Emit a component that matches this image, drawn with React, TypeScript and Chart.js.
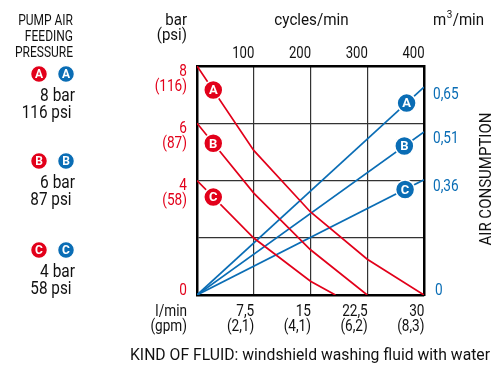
import React, { useEffect, useRef } from 'react';
import { Chart, registerables } from 'chart.js';

Chart.register(...registerables);

const FONT = 'Roboto, "Liberation Sans", sans-serif';
const RED = '#e2001a';
const BLUE = '#0a6db5';
const INK = '#111111';

// axis ticks
const flowTicks = [7.5, 15, 22.5, 30];
const flowTickLabels = ['7,5', '15', '22,5', '30'];
const gpmTickLabels = ['(2,1)', '(4,1)', '(6,2)', '(8,3)'];
const cycleTicks = [100, 200, 300, 400];
const cycleTickLabels = ['100', '200', '300', '400'];
const pressureTicks = [8, 6, 4, 0];
const pressureTickLabels = ['8', '6', '4', '0'];
const psiTickLabels = ['(116)', '(87)', '(58)', ''];
const airTicks = [0.65, 0.51, 0.36, 0];
const airTickLabels = ['0,65', '0,51', '0,36', '0'];

// series
const seriesNames = ['A', 'B', 'C'];
const pressureFlowA = [0, 7.5, 15, 22.5, 30];
const pressureA = [8, 5.05, 2.9, 1.25, 0];
const pressureFlowB = [0, 7.5, 15, 22.5];
const pressureB = [6, 3.56, 1.58, 0];
const pressureFlowC = [0, 7.5, 15, 18.3];
const pressureC = [4, 1.99, 0.48, 0];
const airFlow = [0, 30];
const airA = [0, 0.65];
const airB = [0, 0.51];
const airC = [0, 0.36];

// series badges on the curves
const redBadgeFlow = [2.15, 2.15, 2.15];
const redBadgePressure = [7.16, 5.3, 3.42];
const blueBadgeFlow = [27.7, 27.4, 27.5];
const blueBadgeAir = [0.6, 0.466, 0.33];

// left legend
const legendBar = ['8 bar', '6 bar', '4 bar'];
const legendPsi = ['116 psi', '87 psi', '58 psi'];

const pts = (xs: number[], ys: number[]) => xs.map((x, i) => ({ x, y: ys[i] }));

function txt(
  ctx: CanvasRenderingContext2D,
  s: string,
  x: number,
  y: number,
  size: number,
  color: string,
  align: CanvasTextAlign,
  sx = 1,
  weight = 'normal'
) {
  ctx.save();
  ctx.font = `${weight} ${size}px ${FONT}`;
  ctx.fillStyle = color;
  ctx.textAlign = align;
  ctx.textBaseline = 'alphabetic';
  ctx.translate(x, y);
  ctx.scale(sx, 1);
  ctx.fillText(s, 0, 0);
  ctx.restore();
}

function badge(ctx: CanvasRenderingContext2D, letter: string, x: number, y: number, color: string, r = 9) {
  ctx.save();
  ctx.beginPath();
  ctx.arc(x, y, r, 0, Math.PI * 2);
  ctx.fillStyle = color;
  ctx.fill();
  ctx.lineWidth = 1.5;
  ctx.strokeStyle = '#fff';
  ctx.stroke();
  ctx.font = `bold ${r >= 9 ? 13 : 12}px ${FONT}`;
  ctx.fillStyle = '#fff';
  ctx.textAlign = 'center';
  ctx.textBaseline = 'middle';
  ctx.fillText(letter, x, y + 1);
  ctx.restore();
}

const textPlugin = {
  id: 'texts',
  afterDatasetsDraw(chart: any) {
    const ctx = chart.ctx as CanvasRenderingContext2D;
    chart.data.datasets.forEach((ds: any, i: number) => {
      if (!ds.badge) return;
      const meta = chart.getDatasetMeta(i);
      meta.data.forEach((el: any, j: number) => {
        badge(ctx, seriesNames[j], el.x, el.y, ds.badge, 9.5);
      });
    });
  },
  afterDraw(chart: any) {
    const ctx = chart.ctx as CanvasRenderingContext2D;
    const { x, x2, y, y2 } = chart.scales;
    const left = chart.chartArea.left;
    const right = chart.chartArea.right;

    // left legend
    txt(ctx, 'PUMP AIR', 73, 25, 15, INK, 'right', 0.8);
    txt(ctx, 'FEEDING', 73, 41, 15, INK, 'right', 0.8);
    txt(ctx, 'PRESSURE', 73, 57, 15, INK, 'right', 0.8);
    const legendY = [74, 161, 250];
    seriesNames.forEach((n, i) => {
      badge(ctx, n, 39, legendY[i], RED, 8.5);
      badge(ctx, n, 66, legendY[i], BLUE, 8.5);
      txt(ctx, legendBar[i], 75, legendY[i] + 26.5, 18, INK, 'right', 0.86);
      txt(ctx, legendPsi[i], 71.5, legendY[i] + 43.5, 18, INK, 'right', 0.85);
    });

    // axis titles
    txt(ctx, 'bar', left - 10, 25, 16, INK, 'right', 0.94);
    txt(ctx, '(psi)', left - 10, 40, 16, INK, 'right', 0.94);
    txt(ctx, 'cycles/min', (left + right) / 2 + 1, 25, 16, INK, 'center', 0.95);
    // m3/min
    ctx.save();
    ctx.font = `normal 16px ${FONT}`;
    const mW = ctx.measureText('m').width * 0.94;
    ctx.restore();
    txt(ctx, 'm', right + 9, 25, 16, INK, 'left', 0.94);
    txt(ctx, '3', right + 9 + mW + 0.5, 18, 11, INK, 'left', 0.9);
    txt(ctx, '/min', right + 9 + mW + 6.5, 25, 16, INK, 'left', 0.94);

    // top ticks (cycles/min)
    cycleTicks.forEach((v, i) => {
      txt(ctx, cycleTickLabels[i], x2.getPixelForValue(v) + 0.5, 58, 16, INK, 'right', 0.82);
    });

    // left ticks (bar / psi)
    pressureTicks.forEach((v, i) => {
      const py = y.getPixelForValue(v);
      if (v === 0) {
        txt(ctx, pressureTickLabels[i], left - 10, py, 16, RED, 'right', 0.85);
      } else {
        txt(ctx, pressureTickLabels[i], left - 10, py + 9.5, 16, RED, 'right', 0.85);
        txt(ctx, psiTickLabels[i], left - 10, py + 24.5, 16, RED, 'right', 0.85);
      }
    });

    // right ticks (m3/min)
    airTicks.forEach((v, i) => {
      const py = y2.getPixelForValue(v);
      if (v === 0) {
        txt(ctx, airTickLabels[i], right + 11, py, 16, BLUE, 'left', 0.85);
      } else {
        txt(ctx, airTickLabels[i], right + 9, py + 11.5, 16, BLUE, 'left', 0.85);
      }
    });

    // bottom ticks (l/min / gpm)
    txt(ctx, 'l/min', left - 10, 316, 16, INK, 'right', 0.85);
    txt(ctx, '(gpm)', left - 10, 330.5, 16, INK, 'right', 0.85);
    flowTicks.forEach((v, i) => {
      const px = x.getPixelForValue(v) + 0.5;
      txt(ctx, flowTickLabels[i], px, 316, 16, INK, 'right', 0.85);
      txt(ctx, gpmTickLabels[i], px, 330.5, 16, INK, 'right', 0.85);
    });

    // right title
    ctx.save();
    ctx.translate(491, 179);
    ctx.rotate(-Math.PI / 2);
    ctx.font = `normal 16px ${FONT}`;
    ctx.fillStyle = INK;
    ctx.textAlign = 'center';
    ctx.textBaseline = 'alphabetic';
    ctx.fillText('AIR CONSUMPTION', 0, 0, 133);
    ctx.restore();

    // footer
    ctx.save();
    ctx.font = `normal 16px ${FONT}`;
    ctx.fillStyle = INK;
    ctx.textAlign = 'left';
    ctx.textBaseline = 'alphabetic';
    ctx.fillText('KIND OF FLUID: windshield washing fluid with water', 130, 360, 360);
    ctx.restore();
  },
};

export default function App() {
  const ref = useRef<HTMLCanvasElement | null>(null);

  useEffect(() => {
    if (!ref.current) return;
    const lineDs = (label: string, data: any[], color: string, yAxisID: string) => ({
      label,
      data,
      borderColor: color,
      backgroundColor: color,
      borderWidth: 1.7,
      pointRadius: 0,
      tension: 0,
      fill: false,
      yAxisID,
      xAxisID: 'x',
    });
    const chart = new Chart(ref.current, {
      type: 'line',
      data: {
        datasets: [
          lineDs('A bar', pts(pressureFlowA, pressureA), RED, 'y'),
          lineDs('B bar', pts(pressureFlowB, pressureB), RED, 'y'),
          lineDs('C bar', pts(pressureFlowC, pressureC), RED, 'y'),
          lineDs('A air', pts(airFlow, airA), BLUE, 'y2'),
          lineDs('B air', pts(airFlow, airB), BLUE, 'y2'),
          lineDs('C air', pts(airFlow, airC), BLUE, 'y2'),
          {
            label: 'badges bar',
            data: pts(redBadgeFlow, redBadgePressure),
            showLine: false,
            pointRadius: 0,
            yAxisID: 'y',
            xAxisID: 'x',
            order: -1,
            badge: RED,
          } as any,
          {
            label: 'badges air',
            data: pts(blueBadgeFlow, blueBadgeAir),
            showLine: false,
            pointRadius: 0,
            yAxisID: 'y2',
            xAxisID: 'x',
            order: -1,
            badge: BLUE,
          } as any,
        ],
      },
      options: {
        animation: false,
        responsive: false,
        devicePixelRatio: 1,
        layout: { padding: { left: 197, top: 66, right: 75, bottom: 70 } },
        plugins: { legend: { display: false }, tooltip: { enabled: false } },
        scales: {
          x: {
            type: 'linear',
            position: 'bottom',
            min: 0,
            max: 30,
            afterBuildTicks: (s: any) => {
              s.ticks = [0, ...flowTicks].map((v) => ({ value: v }));
            },
            ticks: { display: false },
            grid: { color: '#333333', lineWidth: 1.2, drawTicks: false },
            border: { display: true, color: '#000', width: 2.5 },
          },
          x2: {
            type: 'linear',
            position: 'top',
            min: 0,
            max: 400,
            afterBuildTicks: (s: any) => {
              s.ticks = cycleTicks.map((v) => ({ value: v }));
            },
            ticks: { display: false },
            grid: { drawOnChartArea: false, drawTicks: false },
            border: { display: true, color: '#000', width: 2.5 },
          },
          y: {
            type: 'linear',
            position: 'left',
            min: 0,
            max: 8,
            afterBuildTicks: (s: any) => {
              s.ticks = [0, 2, 4, 6, 8].map((v) => ({ value: v }));
            },
            ticks: { display: false },
            grid: { color: '#333333', lineWidth: 1.2, drawTicks: false },
            border: { display: true, color: '#000', width: 2.5 },
          },
          y2: {
            type: 'linear',
            position: 'right',
            min: 0,
            max: 0.716,
            afterBuildTicks: (s: any) => {
              s.ticks = airTicks.map((v) => ({ value: v }));
            },
            ticks: { display: false },
            grid: { drawOnChartArea: false, drawTicks: false },
            border: { display: true, color: '#000', width: 2.5 },
          },
        },
      } as any,
      plugins: [textPlugin],
    });
    return () => chart.destroy();
  }, []);

  return (
    <div style={{ position: 'absolute', left: 0, top: 0, width: 499, height: 365, background: '#fff' }}>
      <canvas ref={ref} width={499} height={365} style={{ display: 'block' }} />
    </div>
  );
}
